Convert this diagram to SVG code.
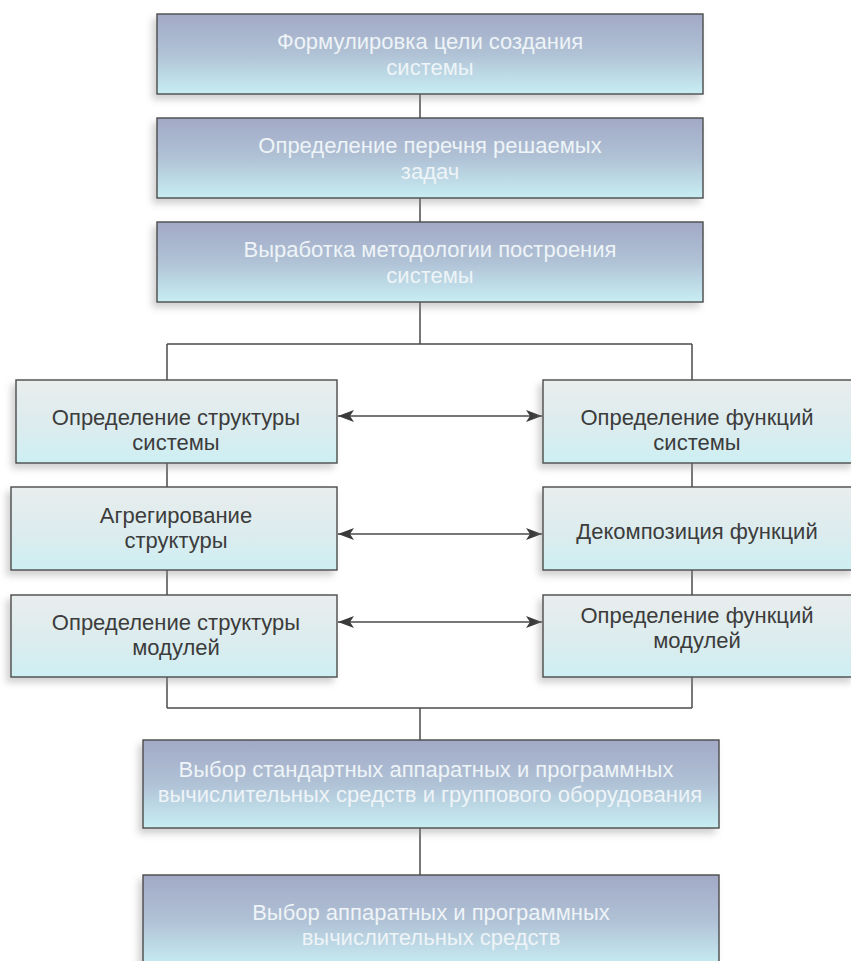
<svg xmlns="http://www.w3.org/2000/svg" width="851" height="961" viewBox="0 0 851 961">
<defs>
  <linearGradient id="gDark" x1="0" y1="0" x2="0" y2="1">
    <stop offset="0" stop-color="#a2a9c6"/>
    <stop offset="0.5" stop-color="#b0c2d6"/>
    <stop offset="1" stop-color="#c8eef3"/>
  </linearGradient>
  <linearGradient id="gLight" x1="0" y1="0" x2="0" y2="1">
    <stop offset="0" stop-color="#e9eded"/>
    <stop offset="0.55" stop-color="#dcecee"/>
    <stop offset="1" stop-color="#cdeff3"/>
  </linearGradient>
  <filter id="sh" x="-10%" y="-20%" width="120%" height="150%">
    <feDropShadow dx="-4" dy="5" stdDeviation="3.5" flood-color="#8a8a8a" flood-opacity="0.4"/>
  </filter>
  <marker id="ah" viewBox="0 0 16 12" refX="16" refY="6" markerWidth="16" markerHeight="12" markerUnits="userSpaceOnUse" orient="auto-start-reverse">
    <path d="M0,0 L16,6 L0,12 L4,6 Z" fill="#3a3a3a"/>
  </marker>
  <style>
    .dark rect { fill: url(#gDark); stroke: #4a4a4a; stroke-width: 1.4; filter: url(#sh); }
    .light rect { fill: url(#gLight); stroke: #4a4a4a; stroke-width: 1.4; filter: url(#sh); }
    .dark text { font-family: "Liberation Sans", Arial, sans-serif; font-size: 22px; fill: #eef4f7; text-anchor: middle; }
    .light text { font-family: "Liberation Sans", Arial, sans-serif; font-size: 22px; fill: #3c3c3c; text-anchor: middle; }
    .conn line { stroke: #4a4a4a; stroke-width: 1.5; fill: none; }
    .arrow { marker-start: url(#ah); marker-end: url(#ah); }
  </style>
</defs>
<rect width="851" height="961" fill="#ffffff"/>

<g id="connectors" class="conn">
  <line x1="420" y1="94" x2="420" y2="118"/>
  <line x1="420" y1="198" x2="420" y2="222"/>
  <line x1="420" y1="302" x2="420" y2="344"/>
  <line x1="167" y1="344" x2="692" y2="344"/>
  <line x1="167" y1="344" x2="167" y2="380"/>
  <line x1="692" y1="344" x2="692" y2="380"/>
  <line x1="167" y1="463" x2="167" y2="487"/>
  <line x1="692" y1="463" x2="692" y2="487"/>
  <line x1="167" y1="570" x2="167" y2="595"/>
  <line x1="692" y1="570" x2="692" y2="595"/>
  <line x1="167" y1="677" x2="167" y2="708"/>
  <line x1="692" y1="677" x2="692" y2="708"/>
  <line x1="167" y1="708" x2="692" y2="708"/>
  <line x1="420" y1="708" x2="420" y2="740"/>
  <line x1="420" y1="828" x2="420" y2="875"/>
  <line class="arrow" x1="338" y1="416" x2="542" y2="416"/>
  <line class="arrow" x1="338" y1="534" x2="542" y2="534"/>
  <line class="arrow" x1="338" y1="622" x2="542" y2="622"/>
</g>

<g id="n1" class="dark">
  <rect x="157" y="14" width="546" height="80"/>
  <text x="430" y="49">Формулировка цели создания</text>
  <text x="430" y="75">системы</text>
</g>
<g id="n2" class="dark">
  <rect x="157" y="118" width="546" height="80"/>
  <text x="430" y="153">Определение перечня решаемых</text>
  <text x="430" y="179">задач</text>
</g>
<g id="n3" class="dark">
  <rect x="157" y="222" width="546" height="80"/>
  <text x="430" y="257">Выработка методологии построения</text>
  <text x="430" y="283">системы</text>
</g>

<g id="l1" class="light">
  <rect x="16" y="380" width="321" height="83"/>
  <text x="176" y="425">Определение структуры</text>
  <text x="176" y="450">системы</text>
</g>
<g id="r1" class="light">
  <rect x="543" y="380" width="312" height="83"/>
  <text x="697" y="425">Определение функций</text>
  <text x="697" y="450">системы</text>
</g>
<g id="l2" class="light">
  <rect x="11" y="487" width="326" height="83"/>
  <text x="176" y="523">Агрегирование</text>
  <text x="176" y="548">структуры</text>
</g>
<g id="r2" class="light">
  <rect x="543" y="487" width="312" height="83"/>
  <text x="697" y="539">Декомпозиция функций</text>
</g>
<g id="l3" class="light">
  <rect x="11" y="595" width="326" height="82"/>
  <text x="176" y="630">Определение структуры</text>
  <text x="176" y="655">модулей</text>
</g>
<g id="r3" class="light">
  <rect x="543" y="595" width="312" height="82"/>
  <text x="697" y="623">Определение функций</text>
  <text x="697" y="648">модулей</text>
</g>

<g id="b1" class="dark">
  <rect x="143" y="740" width="576" height="88"/>
  <text x="426" y="777">Выбор стандартных аппаратных и программных</text>
  <text x="430" y="802">вычислительных средств и группового оборудования</text>
</g>
<g id="b2" class="dark">
  <rect x="143" y="875" width="576" height="92"/>
  <text x="431" y="920">Выбор аппаратных и программных</text>
  <text x="431" y="945">вычислительных средств</text>
</g>
</svg>
